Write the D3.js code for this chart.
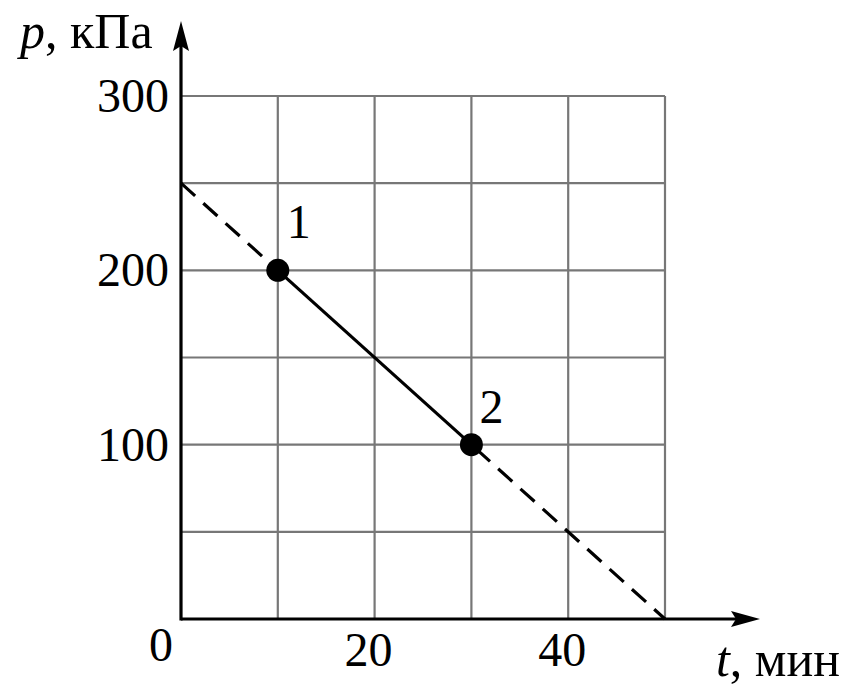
<!DOCTYPE html>
<html><head><meta charset="utf-8">
<script src="https://cdn.jsdelivr.net/npm/d3@7"></script>
<style>body{margin:0;background:#fff}svg{display:block}</style>
</head><body>
<script>
// Data
const xTicks = [0, 10, 20, 30, 40, 50];
const yTicks = [0, 50, 100, 150, 200, 250, 300];
const xLabels = [20, 40];
const yLabels = [100, 200, 300];
const points = [{t: 10, p: 200, label: "1"}, {t: 30, p: 100, label: "2"}];
const lineStart = {t: 0, p: 250};
const lineEnd = {t: 50, p: 0};

const W = 866, H = 689;
const svg = d3.select("body").append("svg").attr("width", W).attr("height", H);
const x = d3.scaleLinear().domain([0, 50]).range([181, 665]);
const y = d3.scaleLinear().domain([0, 300]).range([619, 96]);
const font = "'Liberation Serif','Times New Roman',serif";

// grid
const g = svg.append("g").attr("stroke", "#777").attr("stroke-width", 2.2);
xTicks.slice(1).forEach(v => g.append("line").attr("x1", x(v)).attr("x2", x(v)).attr("y1", y(0)).attr("y2", y(300)));
yTicks.slice(1).forEach(v => g.append("line").attr("x1", x(0)).attr("x2", x(50)).attr("y1", y(v)).attr("y2", y(v)));

// axes
svg.append("line").attr("x1", x(0)).attr("x2", 738).attr("y1", y(0)).attr("y2", y(0)).attr("stroke", "#000").attr("stroke-width", 3.2);
svg.append("line").attr("x1", x(0)).attr("x2", x(0)).attr("y1", y(0) + 1.5).attr("y2", 45).attr("stroke", "#000").attr("stroke-width", 3.2);
svg.append("path").attr("d", `M760,${y(0)} L731,${y(0)-8} L736,${y(0)} L731,${y(0)+8} Z`).attr("fill", "#000");
svg.append("path").attr("d", `M${x(0)},21 L${x(0)-8},51 L${x(0)},46 L${x(0)+8},51 Z`).attr("fill", "#000");

// lines
const ln = (a, b) => svg.append("line").attr("x1", x(a.t)).attr("y1", y(a.p)).attr("x2", x(b.t)).attr("y2", y(b.p)).attr("stroke", "#000").attr("stroke-width", 3.2);
ln(lineStart, points[0]).attr("stroke-dasharray", "19,11");
ln(points[1], lineEnd).attr("stroke-dasharray", "19,11").attr("stroke-dashoffset", -6);
ln(points[0], points[1]);

// points
svg.selectAll("circle.pt").data(points).enter().append("circle")
  .attr("cx", d => x(d.t)).attr("cy", d => y(d.p)).attr("r", 11.5).attr("fill", "#000");
const labelOff = {"1": [9, -32], "2": [8, -22]};
svg.selectAll("text.pl").data(points).enter().append("text")
  .attr("x", d => x(d.t) + labelOff[d.label][0]).attr("y", d => y(d.p) + labelOff[d.label][1])
  .attr("font-family", font).attr("font-size", 48).text(d => d.label);

// tick labels
svg.selectAll("text.yl").data(yLabels).enter().append("text")
  .attr("x", 169).attr("y", d => y(d) + 16).attr("text-anchor", "end")
  .attr("font-family", font).attr("font-size", 48).text(d => d);
svg.selectAll("text.xl").data(xLabels).enter().append("text")
  .attr("x", d => x(d) - 6).attr("y", 666).attr("text-anchor", "middle")
  .attr("font-family", font).attr("font-size", 48).text(d => d);
svg.append("text").attr("x", 161).attr("y", 661).attr("text-anchor", "middle")
  .attr("font-family", font).attr("font-size", 48).text("0");

// axis titles
const yt = svg.append("text").attr("x", 20).attr("y", 48).attr("font-family", font).attr("font-size", 50);
yt.append("tspan").attr("font-style", "italic").text("p");
yt.append("tspan").text(", кПа");
const xt = svg.append("text").attr("x", 840).attr("y", 676).attr("text-anchor", "end").attr("font-family", font).attr("font-size", 50);
xt.append("tspan").attr("font-style", "italic").text("t");
xt.append("tspan").text(", мин");
</script>
</body></html>
